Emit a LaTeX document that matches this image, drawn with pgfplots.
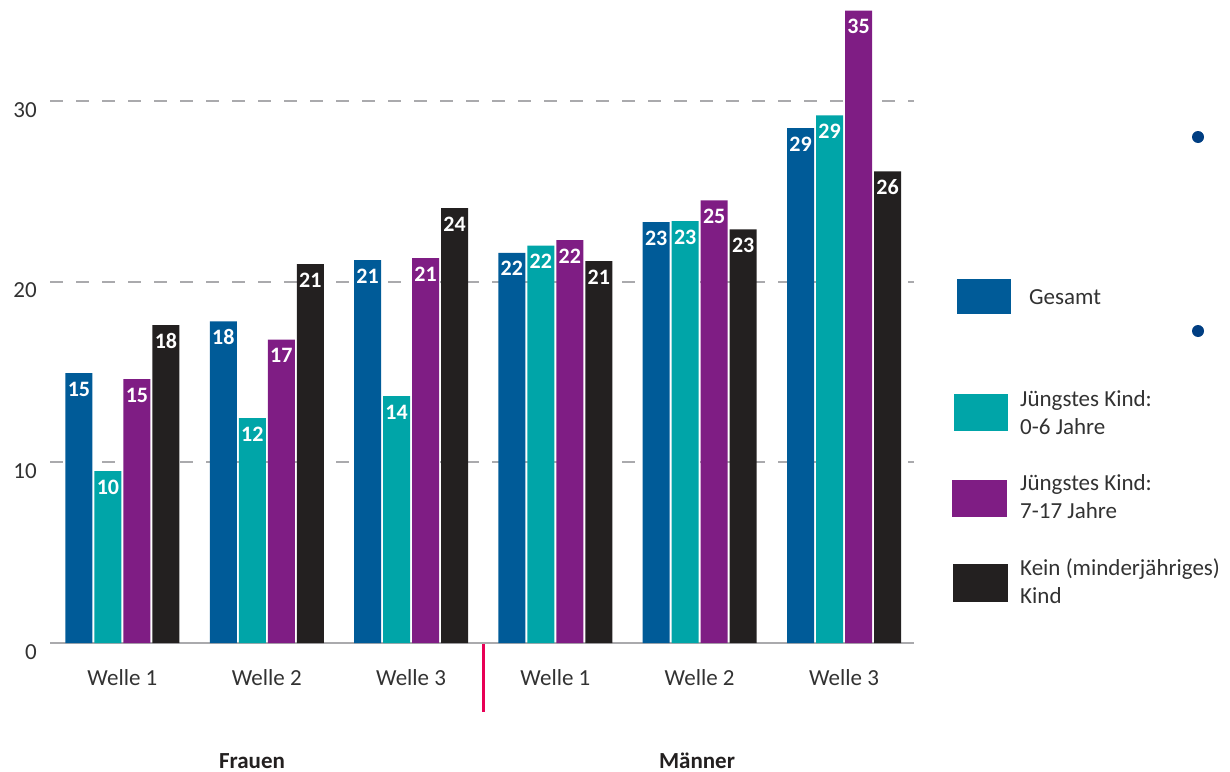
\documentclass[border=0pt]{standalone}
\usepackage{pgfplots}
\pgfplotsset{compat=1.18}
\usepackage{pgfplotstable}
\usepackage{fontspec}
\setmainfont{Carlito}
\definecolor{cblue}{RGB}{0,91,152}
\definecolor{cteal}{RGB}{0,165,168}
\definecolor{cpurple}{RGB}{127,29,132}
\definecolor{cblack}{RGB}{35,32,32}
\definecolor{ctext}{RGB}{50,50,50}
\definecolor{cgrid}{RGB}{170,170,173}
\definecolor{csep}{RGB}{232,0,85}
\definecolor{cdot}{RGB}{0,62,130}

\pgfplotstableread{
x y label
0 14.94 15
1 17.80 18
2 21.20 21
3 21.60 22
4 23.30 23
5 28.50 29
}\gesamt
\pgfplotstableread{
x y label
0 9.52 10
1 12.45 12
2 13.67 14
3 22.00 22
4 23.35 23
5 29.20 29
}\jung
\pgfplotstableread{
x y label
0 14.60 15
1 16.80 17
2 21.30 21
3 22.30 22
4 24.50 25
5 35.00 35
}\mittel
\pgfplotstableread{
x y label
0 17.60 18
1 20.97 21
2 24.07 24
3 21.14 21
4 22.90 23
5 26.10 26
}\kein

\newcommand{\bigf}{\fontsize{23bp}{28bp}\selectfont}
\begin{document}
\begin{tikzpicture}
\path[use as bounding box] (0,0) rectangle (1230bp,-772bp);
\begin{axis}[
  at={(50bp,-643bp)}, anchor=south west,
  scale only axis, width=864bp, height=632.3bp,
  xmin=-0.502, xmax=5.485, ymin=0, ymax=35,
  clip=false,
  ybar=2bp, bar width=27bp,
  axis x line*=bottom, axis y line*=left,
  y axis line style={draw=none},
  x axis line style={draw=cgrid, line width=2bp},
  major tick length=0pt,
  xtick={0,1,2,3,4,5},
  xticklabels={Welle 1,Welle 2,Welle 3,Welle 1,Welle 2,Welle 3},
  ytick={0,10,20,30},
  ymajorgrids,
  grid style={draw=cgrid, line width=1.8bp, dash pattern=on 13bp off 13bp},
  /pgf/number format/assume math mode=true,
  tick label style={font=\bigf, text=ctext, inner sep=0pt},
  xticklabel style={anchor=base, yshift=-42bp},
  yticklabel style={anchor=base east, xshift=-13bp, yshift=-16bp},
  nodes near coords,
  point meta=explicit symbolic,
  every node near coord/.append style={anchor=base, inner sep=0pt, yshift=-23bp, text=white, font=\fontsize{22bp}{26bp}\selectfont\bfseries},
]
\addplot[fill=cblue, draw=none] table[x=x, y=y, meta=label] {\gesamt};
\addplot[fill=cteal, draw=none] table[x=x, y=y, meta=label] {\jung};
\addplot[fill=cpurple, draw=none] table[x=x, y=y, meta=label] {\mittel};
\addplot[fill=cblack, draw=none] table[x=x, y=y, meta=label] {\kein};
\end{axis}
% separator and group labels
\draw[csep, line width=3bp] (483bp,-644bp) -- (483bp,-712bp);
\node[anchor=base, inner sep=0pt, font=\bigf\bfseries, text=cblack] at (252bp,-768bp) {Frauen};
\node[anchor=base, inner sep=0pt, font=\bigf\bfseries, text=cblack] at (697bp,-768bp) {Männer};
% legend
\fill[cblue] (957bp,-279bp) rectangle (1011bp,-314bp);
\fill[cteal] (954bp,-394bp) rectangle (1008bp,-431bp);
\fill[cpurple] (952bp,-480bp) rectangle (1007bp,-517bp);
\fill[cblack] (953bp,-564bp) rectangle (1008bp,-602bp);
\begin{scope}[every node/.style={anchor=base west, inner sep=0pt, font=\bigf, text=ctext}]
\node at (1029bp,-304bp) {Gesamt};
\node at (1020bp,-406bp) {Jüngstes Kind:};
\node at (1020bp,-434bp) {0-6 Jahre};
\node at (1020bp,-490bp) {Jüngstes Kind:};
\node at (1020bp,-518bp) {7-17 Jahre};
\node at (1020bp,-575bp) {Kein (minderjähriges)};
\node at (1020bp,-603bp) {Kind};
\end{scope}
\fill[cdot] (1198bp,-137bp) circle (6bp);
\fill[cdot] (1198bp,-331bp) circle (6bp);
\end{tikzpicture}
\end{document}
